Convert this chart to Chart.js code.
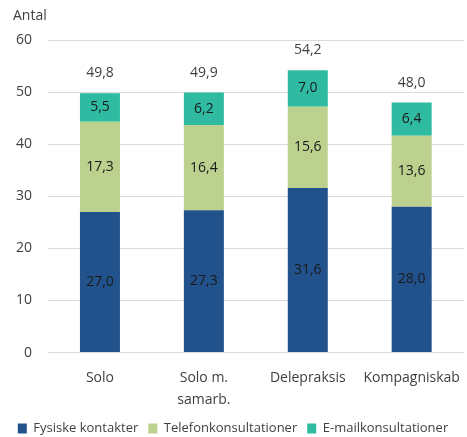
<!DOCTYPE html>
<html>
<head>
<meta charset="utf-8">
<script src="https://cdn.jsdelivr.net/npm/chart.js@4/dist/chart.umd.min.js"></script>
<style>
  html, body { margin: 0; padding: 0; background: #fff; }
  #wrap { width: 467px; height: 437px; }
</style>
</head>
<body>
<div id="wrap"><canvas id="graf"></canvas></div>
<script>
var kategorier = ['Solo', ['Solo m.', 'samarb.'], 'Delepraksis', 'Kompagniskab'];
var fysiske = [27.0, 27.3, 31.6, 28.0];
var telefon = [17.3, 16.4, 15.6, 13.6];
var email = [5.5, 6.2, 7.0, 6.4];
var yTicks = [0, 10, 20, 30, 40, 50, 60];

var fonte = '"Open Sans", sans-serif';

function fmt(v) {
  return v.toFixed(1).replace('.', ',');
}

// labels inside the bars + totals above
var etiketter = {
  id: 'etiketter',
  afterDatasetsDraw: function(chart) {
    var ctx = chart.ctx;
    ctx.save();
    ctx.font = '14px ' + fonte;
    ctx.textAlign = 'center';
    ctx.textBaseline = 'middle';
    chart.data.datasets.forEach(function(ds, i) {
      var meta = chart.getDatasetMeta(i);
      meta.data.forEach(function(bar, j) {
        ctx.fillStyle = '#1a1a1a';
        ctx.fillText(fmt(ds.data[j]), bar.x, (bar.y + bar.base) / 2);
      });
    });
    var last = chart.getDatasetMeta(chart.data.datasets.length - 1);
    last.data.forEach(function(bar, j) {
      var sum = fysiske[j] + telefon[j] + email[j];
      ctx.fillStyle = '#404040';
      ctx.fillText(fmt(sum), bar.x, bar.y - 20);
    });
    // y axis title on top
    ctx.textAlign = 'left';
    ctx.fillStyle = '#404040';
    ctx.fillText('Antal', 13, 16);
    ctx.restore();
  }
};

new Chart(document.getElementById('graf'), {
  type: 'bar',
  data: {
    labels: kategorier,
    datasets: [
      { label: 'Fysiske kontakter', data: fysiske, backgroundColor: '#22528C' },
      { label: 'Telefonkonsultationer', data: telefon, backgroundColor: '#BBD18D' },
      { label: 'E-mailkonsultationer', data: email, backgroundColor: '#2FBBA1' }
    ]
  },
  options: {
    responsive: true,
    maintainAspectRatio: false,
    animation: false,
    layout: { padding: { top: 40, left: 0, right: 1, bottom: -8 } },
    datasets: { bar: { categoryPercentage: 1, barPercentage: 0.385 } },
    scales: {
      x: {
        stacked: true,
        afterFit: function(scale) { scale.height -= 6; },
        grid: { display: false },
        border: { color: '#D9D9D9' },
        ticks: { color: '#404040', font: { family: fonte, size: 14, lineHeight: 1.55 }, padding: 7, maxRotation: 0 }
      },
      y: {
        stacked: true,
        min: 0, max: 60,
        afterBuildTicks: function(axis) {
          axis.ticks = yTicks.map(function(v) { return { value: v }; });
        },
        grid: { color: '#D9D9D9', drawTicks: false },
        border: { display: false },
        ticks: { color: '#404040', font: { family: fonte, size: 14 }, padding: 16 }
      }
    },
    plugins: {
      legend: {
        position: 'bottom',
        labels: { boxWidth: 9, boxHeight: 10, color: '#404040', font: { family: fonte, size: 13 }, padding: 10 }
      },
      tooltip: { enabled: false }
    }
  },
  plugins: [etiketter]
});
</script>
</body>
</html>
